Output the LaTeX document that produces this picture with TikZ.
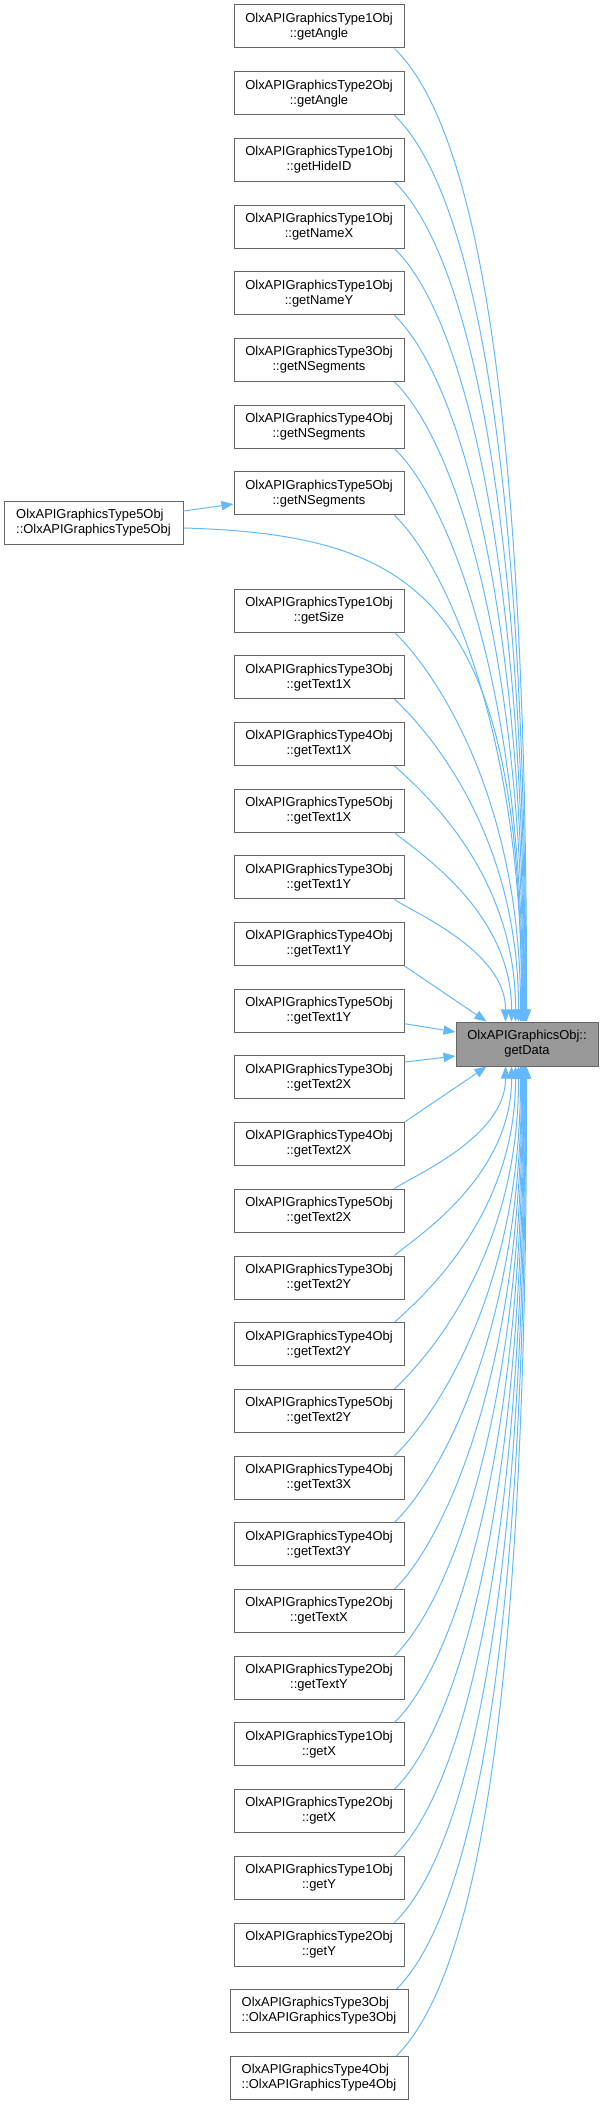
\documentclass[tikz,border=0pt]{standalone}
\usepackage{fontspec}
\setmainfont{Liberation Sans}
\usetikzlibrary{arrows.meta}
\definecolor{edgeblue}{HTML}{63B8FF}
\definecolor{nodeborder}{HTML}{666666}
\definecolor{focusfill}{HTML}{999999}
\tikzset{
  fn/.style={draw=nodeborder, line width=0.75pt, fill=white, minimum width=127.5pt,
    minimum height=32.25pt, align=center, inner sep=0pt,
    font=\fontsize{9.7}{11.25}\selectfont},
  fnl/.style={fn, align=left, minimum width=133.5pt},
  focus/.style={fn, fill=focusfill, minimum width=106.5pt, minimum height=33pt},
  edge/.style={draw=edgeblue, line width=0.75pt, -{Triangle[length=9pt,width=7pt]}, edgeblue}
}
\begin{document}
\begin{tikzpicture}[x=0.75pt,y=-0.75pt]
\useasboundingbox (0,0) rectangle (604,2104);
% caller nodes
\foreach \i/\t/\f in {
  0/1/getAngle, 1/2/getAngle, 2/1/getHideID, 3/1/getNameX, 4/1/getNameY,
  5/3/getNSegments, 6/4/getNSegments, 7/5/getNSegments,
  8/1/getSize, 9/3/getText1X, 10/4/getText1X, 11/5/getText1X,
  12/3/getText1Y, 13/4/getText1Y, 14/5/getText1Y,
  15/3/getText2X, 16/4/getText2X, 17/5/getText2X,
  18/3/getText2Y, 19/4/getText2Y, 20/5/getText2Y,
  21/4/getText3X, 22/4/getText3Y, 23/2/getTextX, 24/2/getTextY,
  25/1/getX, 26/2/getX, 27/1/getY, 28/2/getY} {
  \pgfmathsetmacro\cy{\i<8 ? 26.5+66.7*\i : 610.5+66.7*(\i-8)}
  \node[fn] (n\i) at (319,\cy) {OlxAPIGraphicsType\t Obj\\::\f};
}
\node[fnl] (n29) at (319,2011.1) {OlxAPIGraphicsType3Obj\\::OlxAPIGraphicsType3Obj};
\node[fnl] (n30) at (319,2077.8) {OlxAPIGraphicsType4Obj\\::OlxAPIGraphicsType4Obj};
\node[fnl, minimum width=134.25pt] (L) at (93.5,522.5) {OlxAPIGraphicsType5Obj\\::OlxAPIGraphicsType5Obj};
\node[focus] (gd) at (527,1044) {OlxAPIGraphicsObj::\\getData};

% edges from upper callers to top of getData
\foreach \i/\ex in {0/527,1/526.2,2/525.6,3/525,4/524.4,5/523.8,6/523.2,7/522.6,8/521,9/519,10/516,11/512,12/506} {
  \pgfmathsetmacro\yb{\i<8 ? 48+66.7*\i : 632+66.7*(\i-8)}
  \pgfmathsetmacro\D{1022-\yb}
  \pgfmathsetmacro\exs{(\ex-456)*0.75}
  \draw[edge] ([xshift=-7.5pt]n\i.south east) .. controls (396+0.09*\D, \yb+0.09*\D) and (\ex, \yb+0.41*\D) .. ([xshift=\exs pt]gd.north west);
}
\draw[edge] (n13.south east) -- ([xshift=23.25pt]gd.north west);
% left caller
\draw[edge] ([yshift=8.6pt]L.east) -- ([yshift=-8pt]n7.west);
\draw[edge] ([yshift=-4.1pt]L.east) .. controls (420,535) and (522,600) .. ([xshift=49.5pt]gd.north west);
% side edges
\draw[edge] ([yshift=-9.75pt]n14.east) -- ([yshift=9pt]gd.west);
\draw[edge] ([yshift=11.5pt]n15.east) -- ([yshift=-9pt]gd.west);
% edges from lower callers to bottom of getData
\draw[edge] (n16.north east) -- ([xshift=23.25pt]gd.south west);
\foreach \i/\ex in {17/506,18/512,19/516,20/519,21/521,22/522,23/522.6,24/523.2,25/523.8,26/524.4,27/525,28/525.6,29/526.2,30/527} {
  \pgfmathsetmacro\yt{589+66.7*(\i-8)}
  \pgfmathsetmacro\D{\yt-1066}
  \pgfmathsetmacro\exs{(\ex-456)*0.75}
  \pgfmathsetmacro\sh{\i>28 ? -9 : -7.5}
  \draw[edge] ([xshift=\sh pt]n\i.north east) .. controls (396+0.09*\D, \yt-0.09*\D) and (\ex, \yt-0.41*\D) .. ([xshift=\exs pt]gd.south west);
}
\end{tikzpicture}
\end{document}
